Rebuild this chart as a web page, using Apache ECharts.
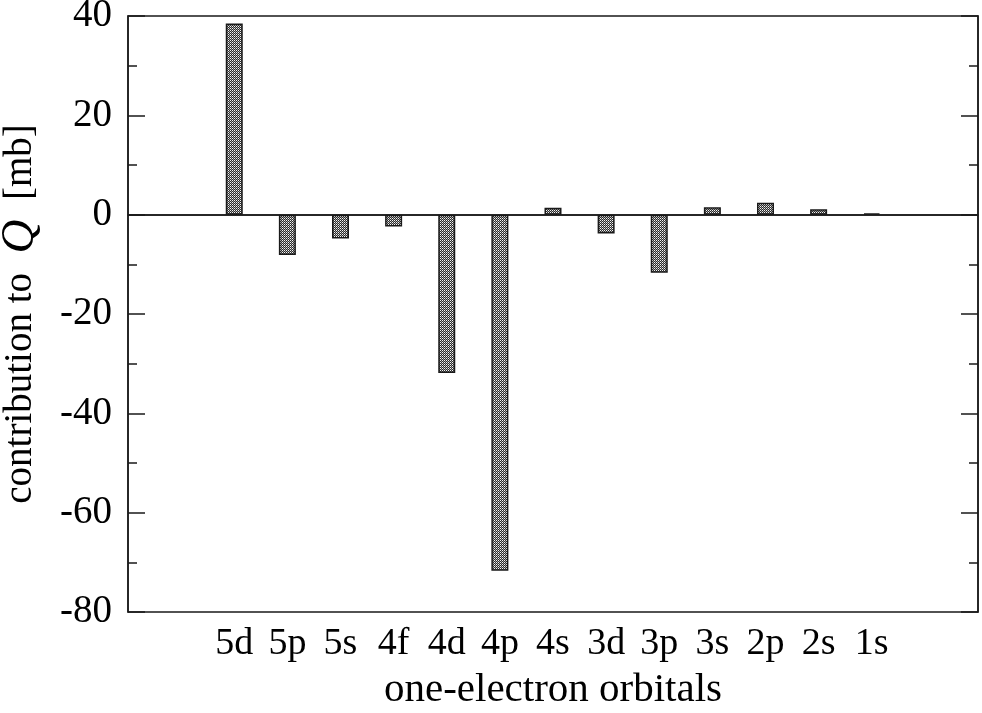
<!DOCTYPE html>
<html>
<head>
<meta charset="utf-8">
<script src="https://cdn.jsdelivr.net/npm/echarts@6/dist/echarts.min.js"></script>
<style>
  html, body { margin: 0; padding: 0; background: #fff; }
  #chart { width: 982px; height: 713px; }
</style>
</head>
<body>
<div id="chart"></div>
<script>
// one-electron orbitals, left to right
const orbitals = ['5d', '5p', '5s', '4f', '4d', '4p', '4s', '3d', '3p', '3s', '2p', '2s', '1s']
// contribution to Q in mb
const contribution = [38.5, -8.1, -4.8, -2.4, -31.9, -71.7, 1.4, -3.8, -11.7, 1.5, 2.4, 1.1, 0.3]
const yTicks = [-80, -60, -40, -20, 0, 20, 40]

// two empty slots on each side of the orbitals
const pad = ['', '']
const categories = pad.concat(orbitals, pad)
const values = ['-', '-'].concat(contribution, ['-', '-'])

// small dithered fill like the printed hatch
function makePattern () {
  const c = document.createElement('canvas')
  c.width = 2
  c.height = 2
  const ctx = c.getContext('2d')
  ctx.fillStyle = '#f4f4f4'; ctx.fillRect(0, 0, 1, 1)
  ctx.fillStyle = '#2c2c2c'; ctx.fillRect(1, 0, 1, 1)
  ctx.fillStyle = '#2c2c2c'; ctx.fillRect(0, 1, 1, 1)
  ctx.fillStyle = '#a0a0a0'; ctx.fillRect(1, 1, 1, 1)
  return c
}

const font = '"Liberation Serif", "DejaVu Serif", serif'
const ink = '#1a1a1a'

const yAxisBase = {
  type: 'value',
  min: yTicks[0],
  max: yTicks[yTicks.length - 1],
  interval: 20,
  axisLine: { show: true, lineStyle: { color: ink, width: 1.5 } },
  axisTick: { show: true, inside: true, length: 17, lineStyle: { color: ink, width: 1.5 } },
  minorTick: { show: true, splitNumber: 2, length: 9, lineStyle: { color: ink, width: 1.5 } },
  splitLine: { show: false }
}

const chart = echarts.init(document.getElementById('chart'))
chart.setOption({
  animation: false,
  backgroundColor: '#fff',
  grid: {
    left: 128,
    right: 4,
    top: 16,
    bottom: 101,
    show: true,
    borderColor: ink,
    borderWidth: 1.5,
    containLabel: false,
    outerBoundsMode: 'none'
  },
  xAxis: {
    type: 'category',
    data: categories,
    boundaryGap: false,
    name: 'one-electron orbitals',
    nameLocation: 'middle',
    nameGap: 58,
    nameTextStyle: { fontFamily: font, fontSize: 41, color: '#000' },
    axisLine: { show: true, lineStyle: { color: ink, width: 1.5 } },
    axisTick: { show: false },
    axisLabel: { interval: 0, margin: 13, fontFamily: font, fontSize: 38, color: '#000' },
    splitLine: { show: false }
  },
  yAxis: [
    Object.assign({}, yAxisBase, {
      position: 'left',
      name: 'contribution to  {q|Q}  [mb]',
      nameLocation: 'middle',
      nameGap: 84,
      nameTextStyle: {
        fontFamily: font,
        fontSize: 39,
        color: '#000',
        rich: {
          q: { fontFamily: font, fontStyle: 'italic', fontSize: 47, color: '#000' }
        }
      },
      axisLabel: { margin: 16, fontFamily: font, fontSize: 39, color: '#000' }
    }),
    Object.assign({}, yAxisBase, {
      position: 'right',
      axisLabel: { show: false }
    })
  ],
  series: [
    {
      type: 'bar',
      data: values,
      barWidth: 17,
      itemStyle: {
        color: { image: makePattern(), repeat: 'repeat' },
        borderColor: ink,
        borderWidth: 1.5
      },
      markLine: {
        silent: true,
        symbol: 'none',
        label: { show: false },
        lineStyle: { color: ink, width: 1.5, type: 'solid' },
        data: [{ yAxis: 0 }]
      }
    }
  ]
})
</script>
</body>
</html>
